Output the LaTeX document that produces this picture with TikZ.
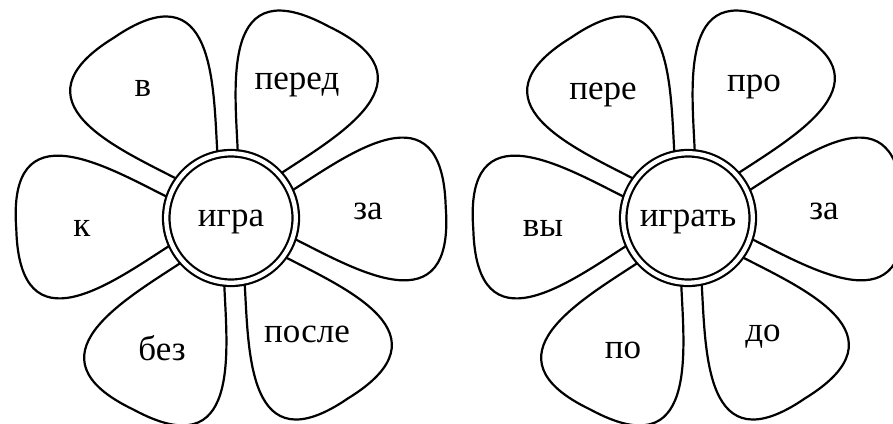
\documentclass[tikz,border=0pt]{standalone}
\usepackage{fontspec}
\setmainfont{Liberation Serif}
\usetikzlibrary{positioning}
\tikzstyle{petal}=[draw,line width=2.2pt,line join=round]
\tikzstyle{core}=[circle,draw,double,line width=2.2pt,double distance=4.3pt,
                fill=white,minimum size=129.5pt,inner sep=0pt]
\tikzstyle{word}=[anchor=base,inner sep=0pt,font=\fontsize{35}{40}\selectfont]
\begin{document}
\begin{tikzpicture}[x=1pt,y=1pt]
\useasboundingbox (0,0) rectangle (893,423);
\clip (0,0) rectangle (893,423);
% petals
\foreach \cx in {231,688}
  \foreach \a in {3,63,...,303}
    \draw[petal,shift={(\cx,205)},rotate=\a] (62,-24) .. controls (122,-58)
    and (218,-122) .. (215,0) .. controls (218,122) and (122,58) .. (62,24);
% centres
\node[core] (core1) at (231,205) {};
\node[core] (core2) at (688,205) {};
\node[word] (root1) at (231,196) {игра};
\node[word] (root2) at (688,196) {играть};
% first flower
\node[word] (v) at (143,326) {в};
\node[word] (pered) at (297,333) {перед};
\node[word] (za1) at (368,203) {за};
\node[word] (posle) at (307,81) {после};
\node[word] (bez) at (162,63) {без};
\node[word] (k) at (82,186) {к};
% second flower
\node[word] (pere) at (603,323) {пере};
\node[word] (pro) at (754,331) {про};
\node[word] (za2) at (824,203) {за};
\node[word] (do) at (763,82) {до};
\node[word] (po) at (623,65) {по};
\node[word] (vy) at (543,186) {вы};
\end{tikzpicture}
\end{document}
